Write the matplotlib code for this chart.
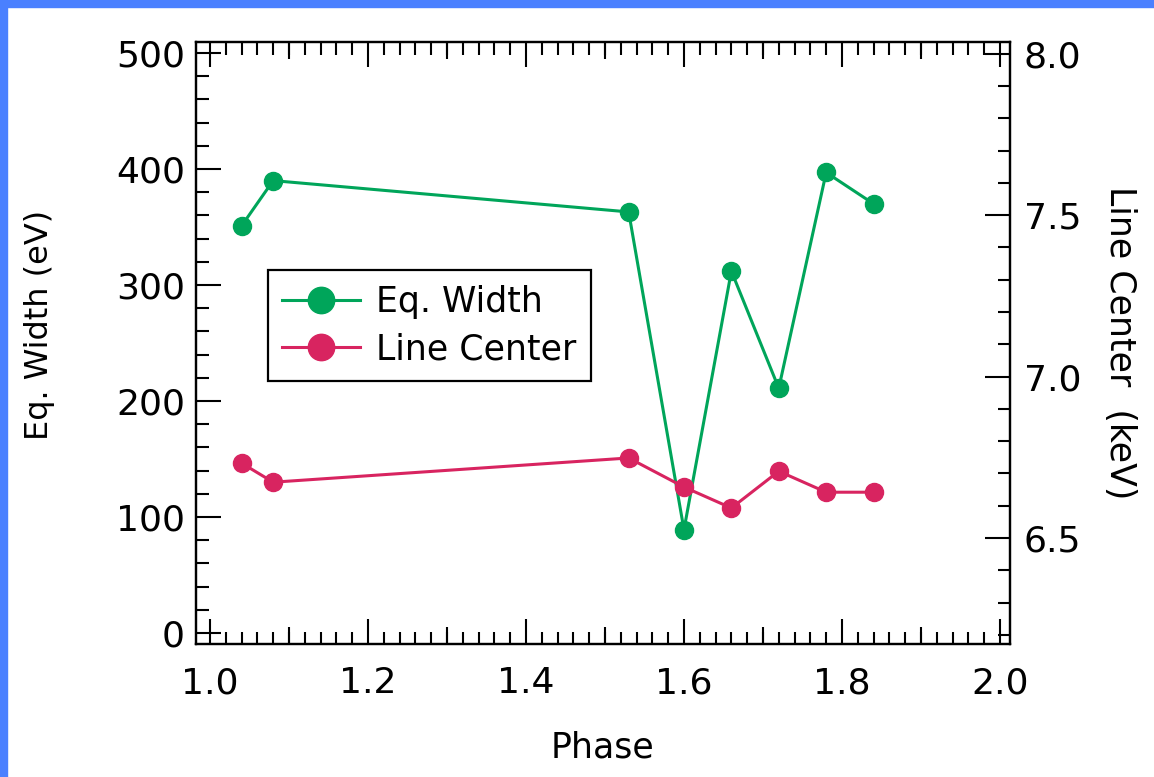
import matplotlib
matplotlib.use('Agg')
import matplotlib.pyplot as plt
from matplotlib.ticker import MultipleLocator, FixedLocator
from matplotlib.patches import Rectangle
from matplotlib.lines import Line2D

# data
phase = [1.04, 1.08, 1.53, 1.60, 1.66, 1.72, 1.78, 1.84]
eq_width = [351, 390, 363, 89, 312, 211, 397, 370]        # eV
line_center = [6.732, 6.673, 6.748, 6.658, 6.593, 6.707, 6.642, 6.642]  # keV

green = '#00a55a'
pink = '#d82460'

plt.rcParams['font.family'] = 'DejaVu Sans'

fig = plt.figure(figsize=(11.54, 7.77), dpi=100)
ax = fig.add_axes([196/1154, 1-644/777, (1010-196)/1154, (644-42)/777])

# blue frame on left and top
fig.patches.append(Rectangle((0, 0), 7/1154, 1, transform=fig.transFigure,
                             color='#4a80ff', zorder=10))
fig.patches.append(Rectangle((0, 1-7/777), 1, 7/777, transform=fig.transFigure,
                             color='#4a80ff', zorder=10))

ax.plot(phase, eq_width, '-o', color=green, lw=2.2, ms=13, label='Eq. Width')
ax.set_xlim(0.9823, 2.0127)
ax.set_ylim(-9.5, 509.5)

ax2 = ax.twinx()
ax2.plot(phase, line_center, '-o', color=pink, lw=2.2, ms=13, label='Line Center')
ax2.set_ylim(6.172, 8.036)

for sp in ax.spines.values():
    sp.set_linewidth(1.6)
for sp in ax2.spines.values():
    sp.set_linewidth(1.6)

# left axis ticks
ax.yaxis.set_major_locator(MultipleLocator(100))
ax.yaxis.set_minor_locator(MultipleLocator(20))
ax.xaxis.set_major_locator(MultipleLocator(0.2))
ax.xaxis.set_minor_locator(MultipleLocator(0.02))
ax.xaxis.set_major_formatter(matplotlib.ticker.FormatStrFormatter('%.1f'))
ax.tick_params(axis='both', which='major', direction='in', length=18, width=1.5,
               labelsize=26)
ax.tick_params(axis='both', which='minor', direction='in', length=9, width=1.5)
ax.tick_params(axis='x', which='both', top=True)
ax.tick_params(axis='x', which='major', pad=16)
ax.tick_params(axis='y', which='major', pad=8)

# medium ticks at every 0.1 on bottom and top
for loc in ['bottom', 'top']:
    sec = ax.secondary_xaxis(loc)
    sec.xaxis.set_major_locator(FixedLocator([1.1, 1.3, 1.5, 1.7, 1.9]))
    sec.tick_params(direction='in', length=12.5, width=1.5, labelbottom=False,
                    labeltop=False)
    sec.spines[loc].set_visible(False)

# right axis ticks
ax2.yaxis.set_major_locator(MultipleLocator(0.5))
ax2.yaxis.set_minor_locator(MultipleLocator(0.1))
ax2.yaxis.set_major_formatter(matplotlib.ticker.FormatStrFormatter('%.1f'))
ax2.tick_params(axis='y', which='major', direction='in', length=18, width=1.5,
                labelsize=26, pad=10)
ax2.tick_params(axis='y', which='minor', direction='in', length=9, width=1.5)

ax.set_xlabel('Phase', fontsize=25, labelpad=22)
ax.set_ylabel('Eq. Width (eV)', fontsize=23)
ax.yaxis.set_label_coords(-0.173, 0.53)
ax2.set_ylabel('Line Center  (keV)', fontsize=25, rotation=270, labelpad=40)

handles = [Line2D([], [], color=green, lw=2.2, marker='o', ms=19),
           Line2D([], [], color=pink, lw=2.2, marker='o', ms=19)]
leg = ax2.legend(handles, ['Eq. Width', 'Line Center'], loc='upper left',
                 bbox_to_anchor=(0.088, 0.621), borderaxespad=0, fontsize=25,
                 fancybox=False, framealpha=1, edgecolor='black',
                 handlelength=2.25, handletextpad=0.45, borderpad=0.42,
                 labelspacing=0.4)
leg.get_frame().set_linewidth(1.6)

fig.savefig('out.png', dpi=100)
